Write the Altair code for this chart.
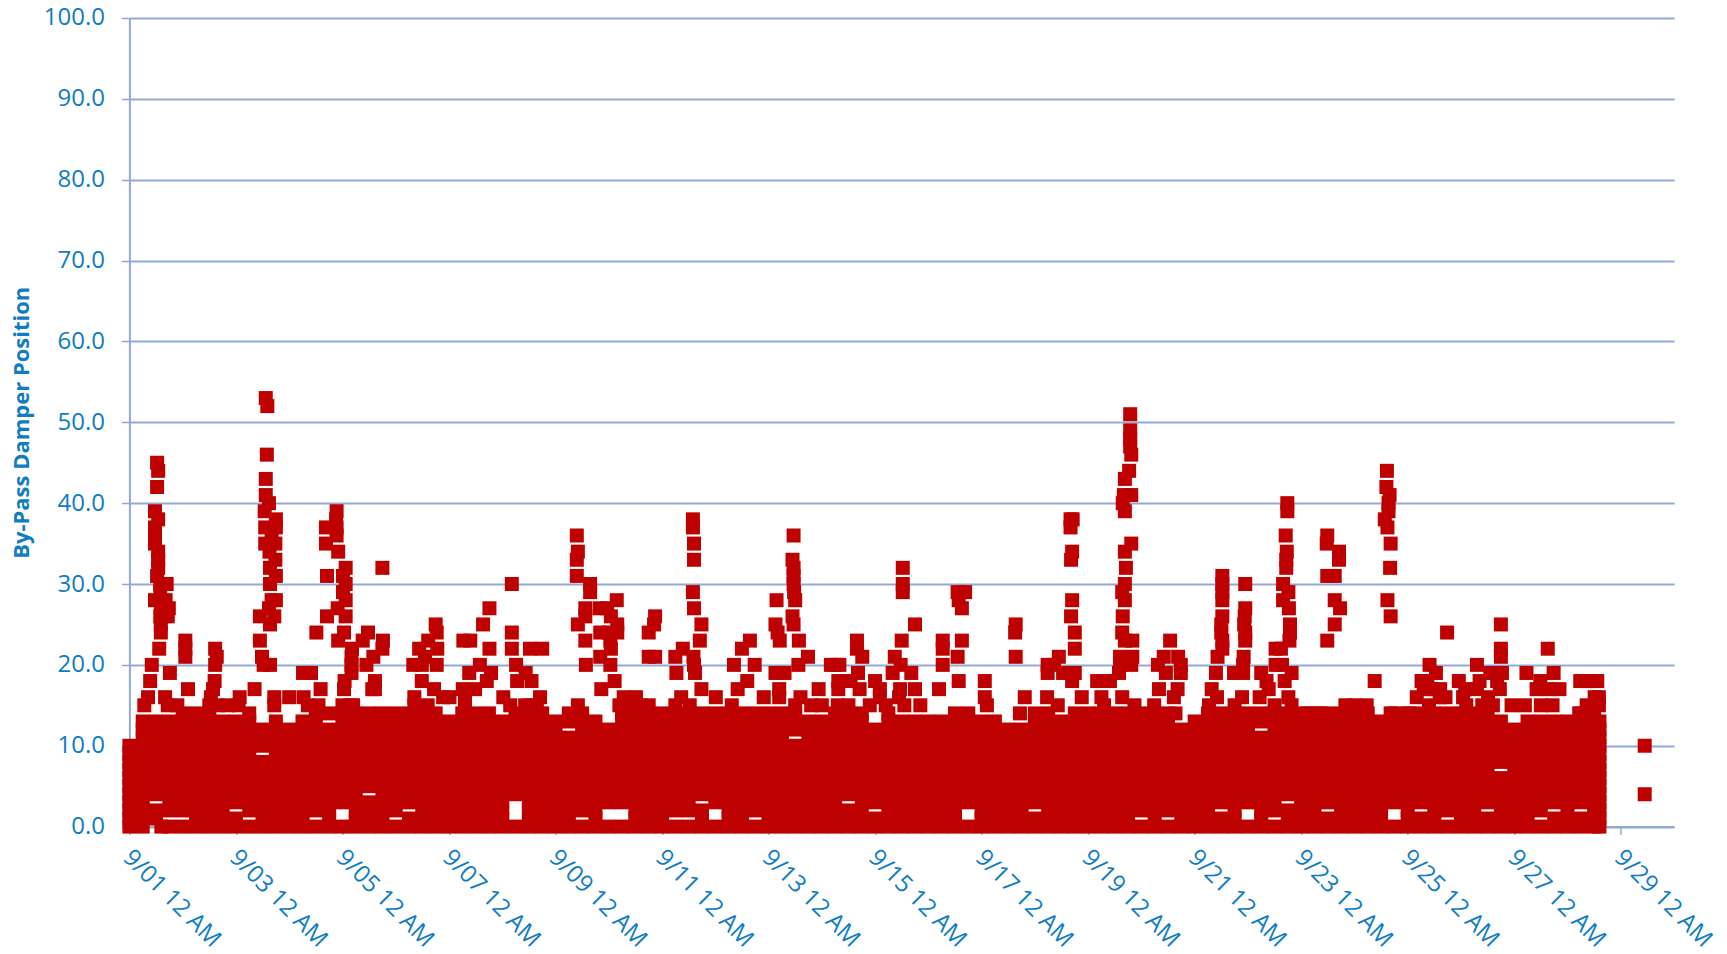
import altair as alt
import pandas as pd

BLUE = "#0F7CC4"
GRID = "#8FAAD3"
RED = "#BE0000"
FONT = "Open Sans"

# By-pass damper position in the solid band: one list per 6-hour column from 9/01 12 AM
band_columns = [
 [0,1,2,3,4,5,6,7,8,9,10],
 [0,1,2,3,4,5,6,7,8,9,10,11,12,13],
 [1,2,4,5,6,7,8,9,10,11,12,13],
 [0,2,3,4,5,6,7,8,9,10,11,12,13],
 [0,2,3,4,5,6,7,8,9,10,11,12,13,14],
 [0,1,2,3,4,5,6,7,8,9,10,11,12,13,14],
 [0,1,2,3,4,5,6,7,8,9,10,11,12,13,14],
 [0,1,2,3,4,5,6,7,8,9,10,11,12,13],
 [0,1,3,4,5,6,7,8,9,10,11,12,13],
 [0,2,3,4,5,6,7,8,9,10,11,12,13,14],
 [0,1,2,3,4,5,6,7,8,10,11,12],
 [0,1,2,3,4,5,6,7,8,9,10,11,12,13],
 [0,1,2,3,4,5,6,7,8,9,10,11,12],
 [0,1,2,3,4,5,6,7,8,9,10,11,12,13],
 [0,2,3,4,5,6,7,8,9,10,11,12,13,14],
 [0,1,2,3,4,5,6,7,8,9,10,11,12,14],
 [0,3,4,5,6,7,8,9,10,11,12,13,14],
 [0,1,2,3,4,5,6,7,8,9,10,11,12,13,14],
 [0,1,2,3,5,6,7,8,9,10,11,12,13,14],
 [0,1,2,3,4,5,6,7,8,9,10,11,12,13,14],
 [0,2,3,4,5,6,7,8,9,10,11,12,13,14],
 [0,1,3,4,5,6,7,8,9,10,11,12,13,14],
 [0,1,2,3,4,5,6,7,8,9,10,11,12,13,14],
 [0,1,2,3,4,5,6,7,8,9,10,11,12,13,14],
 [0,1,2,3,4,5,6,7,8,9,10,11,12,13],
 [0,1,2,3,4,5,6,7,8,9,10,11,12,13,14],
 [0,1,2,3,4,5,6,7,8,9,10,11,12,13,14],
 [0,1,2,3,4,5,6,7,8,9,10,11,12,13,14],
 [0,1,2,3,4,5,6,7,8,9,10,11,12,13],
 [0,4,5,6,7,8,9,10,11,12,13,14],
 [0,1,2,3,4,5,6,7,8,9,10,11,12,13,14],
 [0,1,2,3,4,5,6,7,8,9,10,11,12,13,14],
 [0,1,2,3,4,5,6,7,8,9,10,11,12,13],
 [0,1,2,3,4,5,6,7,8,9,10,11,13,14],
 [0,2,3,4,5,6,7,8,9,10,11,12,13,14],
 [0,1,2,3,4,5,6,7,8,9,10,11,12,13],
 [0,3,4,5,6,7,8,9,10,11,12],
 [0,3,4,5,6,7,8,9,10,11,12,13,14],
 [0,1,2,3,4,5,6,7,8,9,10,11,12,13,14],
 [0,1,2,3,4,5,6,7,8,9,10,11,12,13,14],
 [0,1,2,3,4,5,6,7,8,9,10,11,12,13,14],
 [0,2,3,4,5,6,7,8,9,10,11,12,13,14],
 [0,2,3,4,5,6,7,8,9,10,11,12,13,14],
 [0,1,2,4,5,6,7,8,9,10,11,12,13,14],
 [0,3,4,5,6,7,8,9,10,11,12,13,14],
 [0,1,2,3,4,5,6,7,8,9,10,11,12,13,14],
 [0,1,2,3,4,5,6,7,8,9,10,11,12,13,14],
 [0,2,3,4,5,6,7,8,9,10,11,12,13,14],
 [0,1,2,3,4,5,6,7,8,9,10,11,12,13,14],
 [0,1,2,3,4,5,6,7,8,9,10,11,12,13,14],
 [0,1,2,3,4,5,6,7,8,9,10,12,13,14],
 [0,1,2,3,4,5,6,7,8,9,10,11,12,13],
 [0,1,2,3,4,5,6,7,8,9,10,11,12,13],
 [0,1,2,3,4,5,6,7,8,9,10,11,12,13,14],
 [0,1,2,4,5,6,7,8,9,10,11,12,13,14],
 [0,1,2,3,4,5,6,7,8,9,10,11,12,13,14],
 [0,1,3,4,5,6,7,8,9,10,11,12],
 [0,1,2,3,4,5,6,7,8,9,10,11,12,13,14],
 [0,1,2,3,4,5,6,7,8,9,10,11,12,13],
 [0,1,2,3,4,5,6,7,8,9,10,11,12,13],
 [0,1,2,3,4,5,6,7,8,9,10,11,12,13],
 [0,1,2,3,4,5,6,7,8,9,10,11,12,13],
 [0,1,2,3,4,5,6,7,8,9,10,11,12,13,14],
 [0,3,4,5,6,7,8,9,10,11,12,13,14],
 [0,1,2,3,4,5,6,7,8,9,10,11,12,13],
 [0,1,2,3,4,5,6,7,8,9,10,11,12,13],
 [0,1,2,3,4,5,6,7,8,9,10,11,12],
 [0,1,2,3,4,5,6,7,8,9,10,11,12],
 [0,1,3,4,5,6,7,8,9,10,11,12,13,14],
 [0,1,2,3,4,5,6,7,8,9,10,11,12,13,14],
 [0,1,2,3,4,5,6,7,8,9,10,11,12,13],
 [0,1,2,3,4,5,6,7,8,9,10,11,12,13,14],
 [0,1,2,3,4,5,6,7,8,9,10,11,12,13,14],
 [0,1,2,3,4,5,6,7,8,9,10,11,12,13,14],
 [0,1,2,3,4,5,6,7,8,9,10,11,12,13,14],
 [0,1,2,3,4,5,6,7,8,9,10,11,12,13,14],
 [0,2,3,4,5,6,7,8,9,10,11,12,13,14],
 [0,1,2,3,4,5,6,7,8,9,10,11,12,13,14],
 [0,2,3,4,5,6,7,8,9,10,11,12,13,14],
 [0,1,2,3,4,5,6,7,8,9,10,11,12],
 [0,1,2,3,4,5,6,7,8,9,10,11,12,13],
 [0,1,2,3,4,5,6,7,8,9,10,11,12,13,14],
 [0,1,3,4,5,6,7,8,9,10,11,12,13,14],
 [0,1,2,3,4,5,6,7,8,9,10,11,12,13,14],
 [0,3,4,5,6,7,8,9,10,11,12,13,14],
 [0,1,2,3,4,5,6,7,8,9,10,11,13,14],
 [0,2,3,4,5,6,7,8,9,10,11,12,13,14],
 [0,1,2,4,5,6,7,8,9,10,11,12,13,14],
 [0,1,2,3,4,5,6,7,8,9,10,11,12,13,14],
 [0,1,2,3,4,5,6,7,8,9,10,11,12,13,14],
 [0,1,3,4,5,6,7,8,9,10,11,12,13,14],
 [0,1,2,3,4,5,6,7,8,9,10,11,12,13,14],
 [0,1,2,3,4,5,6,7,8,9,10,11,12,13,14],
 [0,1,2,3,4,5,6,7,8,9,10,11,12,13,14],
 [0,1,2,3,4,5,6,7,8,9,10,11,12,13],
 [0,3,4,5,6,7,8,9,10,11,12,13,14],
 [0,1,2,3,4,5,6,7,8,9,10,11,12,13,14],
 [0,1,3,4,5,6,7,8,9,10,11,12,13,14],
 [0,1,2,3,4,5,6,7,8,9,10,11,12,13,14],
 [0,2,3,4,5,6,7,8,9,10,11,12,13,14],
 [0,1,2,3,4,5,6,7,8,9,10,11,12,13,14],
 [0,1,2,3,4,5,6,7,8,9,10,11,12,13,14],
 [0,1,3,4,5,6,7,8,9,10,11,12,13,14],
 [0,1,2,3,4,5,6,8,9,10,11,12,13],
 [0,1,2,3,4,5,6,7,8,9,10,11,12],
 [0,1,2,3,4,5,6,7,8,9,10,11,12,13],
 [0,2,3,4,5,6,7,8,9,10,11,12,13],
 [0,1,3,4,5,6,7,8,9,10,11,12,13],
 [0,1,2,3,4,5,6,7,8,9,10,11,12,13],
 [0,1,3,4,5,6,7,8,9,10,11,12,13,14],
 [0,1,2,3,4,5,6,7,8,9,10,11,12,13,14],
]
band_last_day = 27.6
band_last_values = [0,1,2,3,4,5,6,7,8,9,10,11,12,13]

# Readings above the band, (days after 9/01 12 AM, position)
early_peaks = [
 (.52,45),(.54,44),(.52,42),(.48,39),(.54,38),(.48,37),(.48,36),(.48,35),(.54,34),(.54,33),(.54,32),(.52,31),
 (.58,30),(.7,30),(.58,29),(.48,28),(.68,28),(.59,27),(.74,27),(.58,26),(.72,26),(.59,25),(.59,24),(.56,22),
 (.42,20),(.39,18),(.35,16),(.28,15),(.67,16),(.76,19),(1.05,23),(1.05,22),(1.05,21),(1.1,17),(1.61,22),
 (1.64,21),(1.61,20),(1.6,18),(1.57,17),(1.53,16),(2.07,16),(.6,0),
 (2.56,53),(2.59,52),(2.58,46),(2.56,43),(2.56,41),(2.62,40),(2.54,39),(2.75,38),(2.55,37),(2.75,37),(2.67,36),
 (2.55,35),(2.74,35),(2.63,34),(2.74,33),(2.64,32),(2.75,31),(2.64,30),(2.75,28),(2.67,28),(2.62,27),(2.45,26),
 (2.72,26),(2.64,25),(2.45,23),(2.49,21),(2.52,20),(2.64,20),(2.35,17),(2.72,16),(3.0,16),
 (3.26,19),(3.41,19),(3.59,17),(3.27,16),(3.35,15),(3.51,24),(3.69,37),(3.69,35),(3.89,39),(3.88,38),(3.89,37),
 (3.89,36),(3.92,34),(4.06,32),(4.01,31),(4.06,30),(4.01,29),(4.06,28),(3.91,27),(3.71,31),(3.71,26),(4.06,26),
 (4.03,24),(3.92,23),(4.18,22),(4.17,21),(4.17,20),(4.17,19),(4.04,18),(4.03,17),(4.14,15),
 (4.48,24),(4.38,23),(4.58,21),(4.45,20),(4.61,18),(4.56,17),(4.61,17),(4.75,32),(4.76,23),(4.75,22),
 (5.75,25),(5.77,24),(5.61,23),(5.78,22),(5.44,22),(5.55,21),(5.33,20),(5.49,20),(5.77,20),(5.49,18),(5.72,17),
 (5.35,16),(5.89,16),(6.01,16),(6.27,23),(6.4,23),(6.64,25),(6.76,27),(6.76,22),(6.58,20),(6.38,19),(6.79,19),
 (6.71,18),(6.49,17),(6.26,17),(6.3,16),(7.18,30),(7.18,24),(7.18,22),(7.52,22),(7.75,22),(7.26,20),(7.44,19),
 (7.28,18),(7.55,18),(7.02,16),(7.71,16),(7.15,15),(7.43,15),
 (8.4,36),(8.42,34),(8.4,33),(8.4,31),(8.65,30),(8.65,29),(8.56,27),(8.83,27),(8.97,27),(9.15,28),(8.56,26),
 (8.42,25),(9.04,26),(9.16,25),(9.16,24),(8.84,24),(9.0,24),(8.56,23),(9.03,23),(9.04,22),(8.84,21),(8.57,20),
 (9.03,20),(9.11,18),(8.86,17),(9.28,16),(9.51,16),(8.42,15),(9.75,24),(9.87,26),(9.85,25),(9.75,21),(9.87,21),
 (9.5,15),(9.75,15),(.72,15),(.9,15),(1.5,15),(1.66,15),(1.85,15),(2.05,15),(2.72,15),(3.55,15),(4.0,15),(4.2,15),
 (5.35,15),(5.6,15),(6.3,15),(7.55,15),(7.65,15),(9.2,15),(9.45,15),(9.6,15),
]
mid_peaks = [
 (10.58,38),(10.58,37),(10.6,35),(10.6,33),(10.58,29),(10.6,27),(10.74,25),(10.71,23),(10.39,22),(10.25,21),
 (10.59,21),(10.6,20),(10.27,19),(10.62,19),(10.74,17),(11.01,16),(10.36,16),(10.25,15),(10.52,15),
 (11.35,20),(11.5,22),(11.65,23),(11.74,20),(11.6,18),(11.42,17),(11.91,16),(11.31,15),
 (12.47,36),(12.45,33),(12.47,32),(12.47,31),(12.47,30),(12.48,29),(12.5,28),(12.15,28),(12.45,26),(12.13,25),
 (12.47,25),(12.17,24),(12.21,23),(12.57,23),(12.74,21),(12.56,20),(12.13,19),(12.3,19),(12.2,17),(12.6,16),
 (12.94,17),(12.2,16),(12.5,15),(12.8,15),(13.0,15),
 (13.17,20),(13.25,20),(13.33,20),(13.66,23),(13.66,22),(13.76,21),(13.68,19),(13.31,18),(13.54,18),(13.31,17),
 (13.71,17),(14.0,18),(14.09,17),(14.09,16),(14.37,21),(14.5,23),(14.75,25),(14.52,32),(14.52,30),(14.52,29),
 (14.48,20),(14.33,19),(14.68,19),(14.47,17),(14.75,17),(14.45,16),(14.85,15),(14.55,15),(13.5,15),(13.3,15),
 (13.9,15),(14.2,15),
 (15.27,23),(15.27,22),(15.27,20),(15.2,17),(15.55,21),(15.63,23),(15.55,29),(15.69,29),(15.57,28),(15.63,27),
 (15.57,18),(16.06,18),(16.06,16),(16.64,25),(16.63,24),(16.64,21),(16.1,15),(16.81,16),(16.72,14),
 (17.24,20),(17.24,19),(17.45,21),(17.36,20),(17.53,19),(17.75,19),(17.7,18),(17.67,38),(17.71,38),(17.67,37),
 (17.7,34),(17.68,33),(17.7,28),(17.68,26),(17.75,24),(17.75,22),(17.88,16),(17.23,16),(17.43,15),
 (18.79,51),(18.79,49),(18.79,48),(18.79,47),(18.81,46),(18.77,44),(18.69,43),(18.67,41),(18.81,41),(18.65,40),
 (18.69,39),(18.81,35),(18.69,34),(18.71,32),(18.69,30),(18.64,29),(18.69,28),(18.65,26),(18.64,24),(18.69,23),
 (18.83,23),(18.6,21),(18.83,21),(18.6,20),(18.81,20),(18.58,19),(18.17,18),(18.41,18),(18.25,16),(18.64,16),
 (18.87,15),(19.24,15),(18.3,15),
 (19.54,23),(19.42,21),(19.69,21),(19.31,20),(19.74,20),(19.46,19),(19.74,19),(19.33,17),(19.68,17),(19.61,16),
 (19.64,14),
]
late_peaks = [
 (20.52,31),(20.52,30),(20.52,29),(20.52,28),(20.52,26),(20.5,25),(20.5,24),(20.52,23),(20.52,22),(20.43,21),
 (20.4,19),(20.32,17),(20.42,16),(20.27,15),(20.95,30),(20.95,27),(20.94,26),(20.93,25),(20.95,24),(20.95,23),
 (20.92,21),(20.91,20),(20.74,19),(20.91,19),(21.25,19),(21.35,18),(21.39,17),(20.89,16),(21.22,16),(21.76,16),
 (20.75,15),(21.74,40),(21.74,39),(21.71,36),(21.73,34),(21.72,33),(21.72,32),(21.66,30),(21.76,29),(21.66,28),
 (21.77,27),(21.79,25),(21.79,24),(21.78,23),(21.52,22),(21.62,22),(21.64,20),(21.82,19),(21.69,18),(21.52,20),
 (21.82,15),(21.5,15),(22.49,36),(22.48,35),(22.71,34),(22.71,33),(22.49,31),(22.63,31),(22.63,28),(22.73,27),
 (22.63,25),(22.49,23),(22.13,14),(22.36,14),(22.83,15),(23.23,15),(23.0,15),
 (23.61,44),(23.6,42),(23.66,41),(23.64,40),(23.64,39),(23.57,38),(23.62,37),(23.68,35),(23.67,32),(23.62,28),
 (23.68,26),(23.38,18),(23.68,14),(24.74,24),(24.41,20),(24.53,19),(24.26,18),(24.37,18),(24.61,17),(24.17,16),
 (24.71,16),(24.04,14),(24.45,17),(24.4,15),(24.3,17),(24.6,16),
 (25.75,25),(25.75,22),(25.75,21),(25.3,20),(25.55,19),(25.77,19),(24.96,18),(25.35,18),(25.68,18),(25.08,17),
 (25.73,17),(25.04,16),(25.51,16),(25.3,17),(25.1,15),(25.4,15),(25.6,15),
 (26.63,22),(26.23,19),(26.74,19),(26.49,18),(26.42,17),(26.85,17),(25.95,15),(26.72,15),(26.2,15),(26.5,15),(26.65,17),
 (27.24,18),(27.56,18),(27.4,18),(27.51,16),(27.36,15),(27.59,15),(27.22,14),(27.59,16),
 (28.45,10),(28.45,4),
]

tick_dates = [1, 3, 5, 7, 9, 11, 13, 15, 17, 19, 21, 23, 25, 27, 29]
y_ticks = [0, 10, 20, 30, 40, 50, 60, 70, 80, 90, 100]

rows = []
for i, col in enumerate(band_columns):
    rows += [(i * 0.25, v) for v in col]
rows += [(band_last_day, v) for v in band_last_values]
rows += early_peaks + mid_peaks + late_peaks

start = pd.Timestamp("2021-09-01T00:00:00")
df = pd.DataFrame(rows, columns=["day", "position"])
df["time"] = [start + pd.Timedelta(days=float(d)) for d in df["day"]]
df = df[["time", "position"]]

x_axis = alt.Axis(
    values=[alt.DateTime(year=2021, month=9, date=d) for d in tick_dates],
    format="%-m/%d %-I %p",
    title=None,
    grid=False,
    labelAngle=45,
    labelAlign="left",
    labelBaseline="middle",
    labelFont=FONT,
    labelFontSize=24,
    labelColor=BLUE,
    labelPadding=19,
    labelOffset=-3,
    labelOverlap=False,
    labelBound=False,
    labelFlush=False,
    tickColor=GRID,
    tickSize=8,
    tickWidth=1.5,
    domainColor=GRID,
    domainWidth=2,
)
y_axis = alt.Axis(
    values=y_ticks,
    format=".1f",
    title="By-Pass Damper Position",
    titleFont=FONT,
    titleFontSize=22,
    titleFontWeight="bold",
    titleColor=BLUE,
    titleX=-108,
    titleBaseline="middle",
    labelFont=FONT,
    labelFontSize=24,
    labelColor=BLUE,
    labelPadding=17,
    tickColor=GRID,
    tickSize=8,
    tickWidth=1.5,
    domainColor=GRID,
    domainWidth=2,
    grid=True,
    gridColor=GRID,
    gridWidth=2,
    gridOpacity=1,
)

chart = (
    alt.Chart(df)
    .mark_square(size=196, color=RED, opacity=1)
    .encode(
        x=alt.X(
            "time:T",
            axis=x_axis,
            scale=alt.Scale(
                domain=[
                    alt.DateTime(year=2021, month=9, date=1),
                    alt.DateTime(year=2021, month=9, date=30),
                ]
            ),
        ),
        y=alt.Y("position:Q", axis=y_axis, scale=alt.Scale(domain=[0, 100], nice=False)),
    )
    .properties(
        width=1544.6,
        height=808.6,
        autosize="none",
        padding={"left": 121.4, "top": 10, "right": 42, "bottom": 127},
        background="white",
    )
    .configure_view(stroke=None)
)

chart.save("out.html", embed_options={"renderer": "svg", "actions": False})
